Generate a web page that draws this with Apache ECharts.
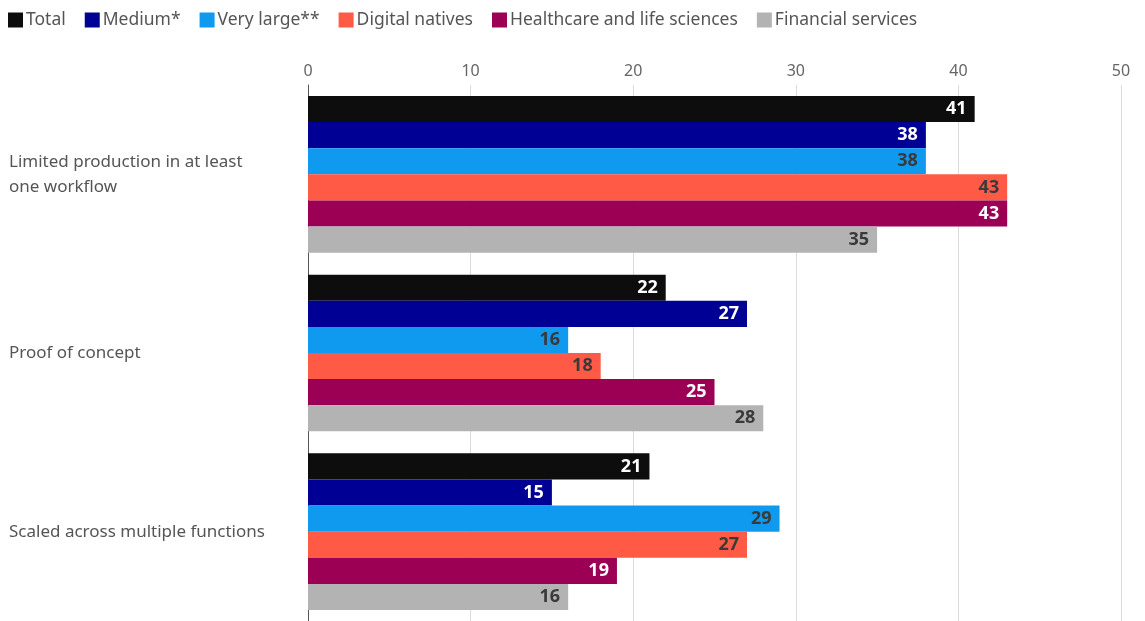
<!DOCTYPE html>
<html>
<head>
<meta charset="utf-8">
<script src="https://cdn.jsdelivr.net/npm/echarts@6/dist/echarts.min.js"></script>
<style>
  html, body { margin: 0; padding: 0; background: #fff; }
  #chart { width: 1145px; height: 621px; }
</style>
</head>
<body>
<div id="chart"></div>
<script>
// Deployment stage categories, listed top to bottom
const categories = [
  'Limited production in at least\none workflow',
  'Proof of concept',
  'Scaled across multiple functions'
];

// Share of respondents (%) per group, in category order
const total          = [41, 22, 21];
const medium         = [38, 27, 15];
const veryLarge      = [38, 16, 29];
const digitalNatives = [43, 18, 27];
const healthcare     = [43, 25, 19];
const financial      = [35, 28, 16];

const xTicks = [0, 10, 20, 30, 40, 50];

const groups = [
  { name: 'Total', data: total, color: '#0d0d0d', label: '#ffffff' },
  { name: 'Medium*', data: medium, color: '#000095', label: '#ffffff' },
  { name: 'Very large**', data: veryLarge, color: '#0f9af0', label: '#3a3a3a' },
  { name: 'Digital natives', data: digitalNatives, color: '#ff5a45', label: '#3a3a3a' },
  { name: 'Healthcare and life sciences', data: healthcare, color: '#9b0055', label: '#ffffff' },
  { name: 'Financial services', data: financial, color: '#b3b3b3', label: '#3a3a3a' }
];

const FONT = '"Noto Sans", "Open Sans", sans-serif';

const chart = echarts.init(document.getElementById('chart'), null, { renderer: 'canvas' });

chart.setOption({
  animation: false,
  textStyle: { fontFamily: FONT },
  legend: {
    left: 3,
    top: 6,
    itemWidth: 15,
    itemHeight: 15,
    itemGap: 19,
    icon: 'rect',
    textStyle: { fontSize: 17.5, color: '#555', fontFamily: FONT, padding: [0, 0, 0, -2] },
    data: groups.map(g => g.name)
  },
  grid: { left: 308, right: 24, top: 85, bottom: -1, containLabel: false },
  xAxis: {
    type: 'value',
    position: 'top',
    min: xTicks[0],
    max: xTicks[xTicks.length - 1],
    interval: 10,
    axisLine: { show: false },
    axisTick: { show: false },
    axisLabel: { fontSize: 16, color: '#666', margin: 6, fontFamily: FONT },
    splitLine: { lineStyle: { color: '#dcdcdc', width: 1 } }
  },
  yAxis: {
    type: 'category',
    inverse: true,
    data: categories,
    axisLine: { show: true, lineStyle: { color: '#555', width: 1 } },
    axisTick: { show: false },
    axisLabel: {
      align: 'left',
      margin: 299,
      fontSize: 17,
      lineHeight: 25,
      color: '#555',
      fontFamily: FONT
    }
  },
  series: groups.map(g => ({
    name: g.name,
    type: 'bar',
    data: g.data,
    barGap: '0%',
    barCategoryGap: '12.3%',
    itemStyle: { color: g.color },
    label: {
      show: true,
      position: 'insideRight',
      distance: 8,
      color: g.label,
      fontSize: 18,
      fontWeight: 'bold',
      fontFamily: FONT
    }
  }))
});
</script>
</body>
</html>
